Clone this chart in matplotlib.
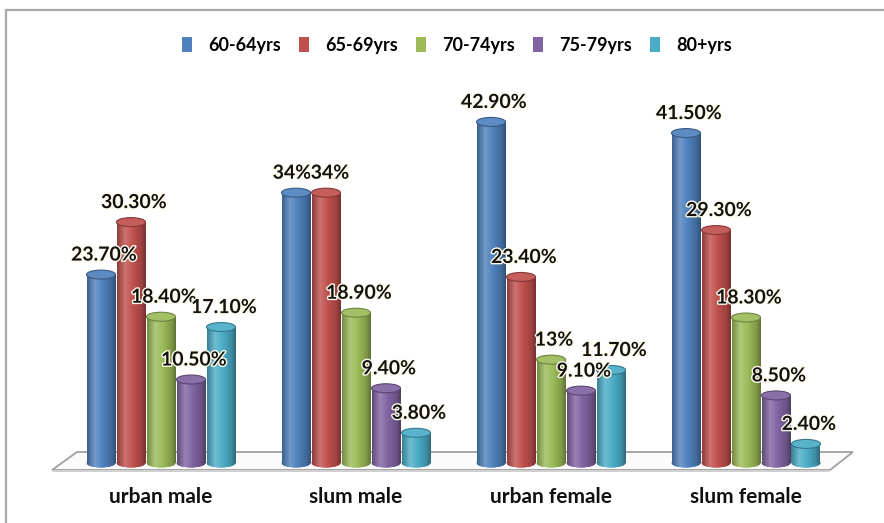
import numpy as np
import matplotlib
matplotlib.use("Agg")
import matplotlib.pyplot as plt
from matplotlib.patches import Ellipse, Polygon, Rectangle, Patch
from matplotlib.colors import LinearSegmentedColormap, to_rgb
import matplotlib.patheffects as pe

categories = ["urban male", "slum male", "urban female", "slum female"]
series = ["60-64yrs", "65-69yrs", "70-74yrs", "75-79yrs", "80+yrs"]
values_60_64 = [23.7, 34.0, 42.9, 41.5]
values_65_69 = [30.3, 34.0, 23.4, 29.3]
values_70_74 = [18.4, 18.9, 13.0, 18.3]
values_75_79 = [10.5, 9.4, 9.1, 8.5]
values_80p = [17.1, 3.8, 11.7, 2.4]
labels_60_64 = ["23.70%", "34%", "42.90%", "41.50%"]
labels_65_69 = ["30.30%", "34%", "23.40%", "29.30%"]
labels_70_74 = ["18.40%", "18.90%", "13%", "18.30%"]
labels_75_79 = ["10.50%", "9.40%", "9.10%", "8.50%"]
labels_80p = ["17.10%", "3.80%", "11.70%", "2.40%"]

values = [values_60_64, values_65_69, values_70_74, values_75_79, values_80p]
labels = [labels_60_64, labels_65_69, labels_70_74, labels_75_79, labels_80p]
colors = ["#4F81BD", "#C0504D", "#9BBB59", "#8064A2", "#4BACC6"]

FONT = ["Lato", "DejaVu Sans"]

W, H = 884, 523
fig = plt.figure(figsize=(W / 100, H / 100), dpi=100)
fig.patch.set_facecolor("white")

# axes: pixel mapping  x_px = 161 + x*195 ; y_px = 463 - v*7.95
px_per_unit_x = 195.0
px_per_unit_y = 7.95
x0_px, y0_px = 161.0, 463.0
ymin, ymax = -7.0, 50.0
xmin = -x0_px / px_per_unit_x
xmax = (W - x0_px) / px_per_unit_x
bot_px = y0_px - ymin * px_per_unit_y
top_px = y0_px - ymax * px_per_unit_y
ax = fig.add_axes([0, (H - bot_px) / H, 1, (bot_px - top_px) / H])
ax.set_axis_off()

# chart frame
fig.patches.append(Rectangle((6 / W, -0.2), 1.5, 1.2 - 10 / H,
                             transform=fig.transFigure, fill=False,
                             edgecolor="#a8a8a8", lw=1.6, zorder=0))


def ux(px):
    return (px - x0_px) / px_per_unit_x


def uy(py):
    return (y0_px - py) / px_per_unit_y


# floor
floor = Polygon([(ux(77), uy(452)), (ux(853), uy(452)), (ux(830), uy(470)), (ux(52), uy(470))],
                closed=True, facecolor="#fbfbfb", edgecolor="#a0a0a0", lw=1.3, zorder=1)
ax.add_patch(floor)
ax.add_patch(Polygon([(ux(52), uy(470)), (ux(830), uy(470)), (ux(830), uy(472)), (ux(52), uy(472))],
                     closed=True, facecolor="#d0d0d0", edgecolor="none", zorder=1))

bw = 29.0 / px_per_unit_x
step = 30.0 / px_per_unit_x
eh = 9.0 / px_per_unit_y


def shade(c, f):
    r = np.array(to_rgb(c))
    if f >= 0:
        return tuple(r + (1 - r) * f)
    return tuple(r * (1 + f))


x_groups = np.arange(len(categories))
grad = np.linspace(0, 1, 64).reshape(1, -1)
for j, (vals, c) in enumerate(zip(values, colors)):
    xs = x_groups + (j - 2) * step
    cmap = LinearSegmentedColormap.from_list(
        "c%d" % j,
        [(0.0, shade(c, -0.25)), (0.28, shade(c, 0.2)), (0.55, shade(c, 0.0)),
         (0.85, shade(c, -0.18)), (1.0, shade(c, -0.38))])
    bars = ax.bar(xs, vals, width=bw, bottom=0, color=c, edgecolor="none", zorder=3)
    for x, v, b in zip(xs, vals, bars):
        be = Ellipse((x, 0), bw, eh, facecolor=c, edgecolor="none", zorder=2.9)
        ax.add_patch(be)
        im = ax.imshow(grad, extent=[x - bw / 2, x + bw / 2, -eh, v], aspect="auto",
                       cmap=cmap, zorder=3.1, interpolation="bilinear")
        im.set_clip_path(b)
        im2 = ax.imshow(grad, extent=[x - bw / 2, x + bw / 2, -eh, v], aspect="auto",
                        cmap=cmap, zorder=3.0, interpolation="bilinear")
        im2.set_clip_path(be)
        te = Ellipse((x, v), bw, eh, facecolor=shade(c, 0.08),
                     edgecolor=shade(c, -0.3), lw=0.8, zorder=3.3)
        ax.add_patch(te)

# data labels (nudge apart labels of equal neighbouring bars)
for gi in range(len(categories)):
    for j in range(len(series)):
        v = values[j][gi]
        x = x_groups[gi] + (j - 2) * step
        dx = 3 / px_per_unit_x
        if j + 1 < len(series) and abs(values[j + 1][gi] - v) < 1.5:
            dx = -4 / px_per_unit_x
        elif j > 0 and abs(values[j - 1][gi] - v) < 1.5:
            dx = 4 / px_per_unit_x
        ax.text(x + dx, v + 19.5 / px_per_unit_y, labels[j][gi], ha="center", va="center",
                fontsize=14, fontweight="bold", family=FONT, color="#111111", zorder=5,
                path_effects=[pe.withStroke(linewidth=2, foreground="#fffbea")])

for g, cat in zip(x_groups, categories):
    ax.text(g, uy(497), cat, ha="center", va="center", fontsize=15,
            fontweight="bold", family=FONT, color="#111111")

ax.set_xlim(xmin, xmax)
ax.set_ylim(ymin, ymax)

handles = [Patch(facecolor=c, edgecolor="none") for c in colors]
leg = fig.legend(handles, series, loc="center", bbox_to_anchor=(457 / W, 1 - 45 / H),
                 ncol=5, frameon=False, handlelength=0.55, handleheight=0.9,
                 handletextpad=0.9, columnspacing=1.0,
                 prop={"family": FONT, "weight": "bold", "size": 13})

fig.savefig("out.png", dpi=100, facecolor="white")
